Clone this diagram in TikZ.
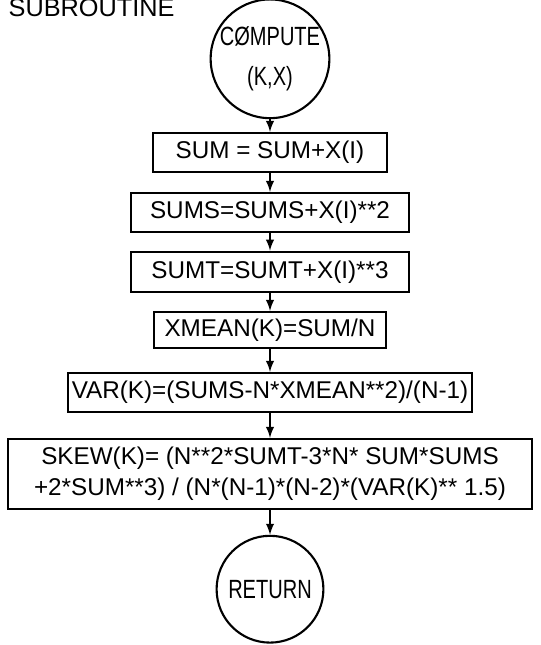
\documentclass[tikz,border=0pt]{standalone}
\usepackage{fontspec}
\setmainfont{Liberation Sans}
\newfontfamily\narrowlet{Liberation Sans}[FakeStretch=0.76]
\usetikzlibrary{arrows}

\begin{document}
\begin{tikzpicture}[>=latex,
  blk/.style={draw,line width=1pt,inner sep=0pt,minimum height=.65cm,
    align=center,font=\fontsize{11.5}{14.5}\selectfont},
  term/.style={draw,circle,line width=1pt,inner sep=0pt,minimum size=1.78cm,
    align=center,font=\narrowlet\fontsize{12.5}{19}\selectfont},
  flow/.style={->,line width=.8pt}]
 \useasboundingbox (0,0) rectangle (9,-10.75);
 \node[anchor=base west] (title) at (0.02,-0.28) {\fontsize{12}{14}\selectfont SUBROUTINE};
 % start and end
 \node[term] (start) at (4.5,-0.98) {CØMPUTE\\(K,X)};
 \node[term] (stop) at (4.5,-9.82) {RETURN};
 % the sums
 \node[blk,minimum width=3.9cm] (sum) at (4.5,-2.54) {SUM = SUM+X(I)};
 \node[blk,minimum width=4.62cm] (sums) at (4.5,-3.54) {SUMS=SUMS+X(I)**2};
 \node[blk,minimum width=4.62cm,minimum height=.67cm] (sumt) at (4.5,-4.53) {SUMT=SUMT+X(I)**3};
 % moments
 \node[blk,minimum width=3.88cm,minimum height=.6cm] (mean) at (4.5,-5.5) {XMEAN(K)=SUM/N};
 \node[blk,minimum width=6.72cm] (var) at (4.5,-6.54) {VAR(K)=(SUMS-N*XMEAN**2)/(N-1)};
 \node[blk,minimum width=8.73cm,minimum height=1.17cm] (skew) at (4.5,-7.9)
   {SKEW(K)= (N**2*SUMT-3*N* SUM*SUMS\\+2*SUM**3) / (N*(N-1)*(N-2)*(VAR(K)** 1.5)};
  \draw[flow] (start) -- (sum);
  \draw[flow] (sum) -- (sums);
  \draw[flow] (sums) -- (sumt);
  \draw[flow] (sumt) -- (mean);
  \draw[flow] (mean) -- (var);
  \draw[flow] (var) -- (skew);
  \draw[flow] (skew) -- (stop);
\end{tikzpicture}
\end{document}
